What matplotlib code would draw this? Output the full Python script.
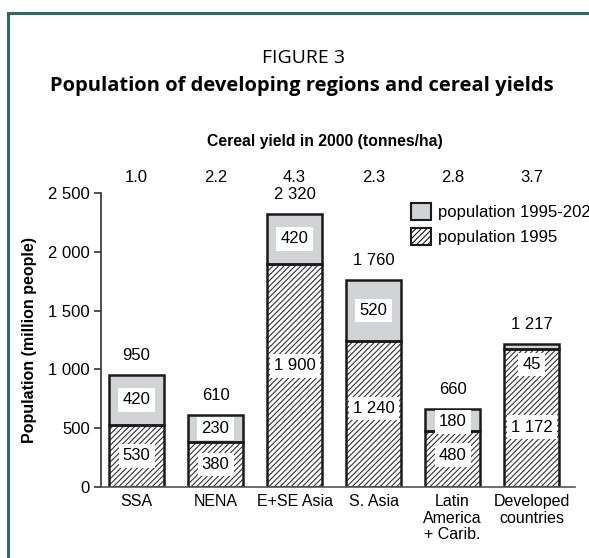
import matplotlib
matplotlib.use('Agg')
import matplotlib.pyplot as plt
from matplotlib.patches import Rectangle, Patch

regions = ['SSA', 'NENA', 'E+SE Asia', 'S. Asia', 'Latin\nAmerica\n+ Carib.', 'Developed\ncountries']
pop_1995 = [530, 380, 1900, 1240, 480, 1172]
pop_increase = [420, 230, 420, 520, 180, 45]
pop_total = ['950', '610', '2 320', '1 760', '660', '1 217']
base_labels = ['530', '380', '1 900', '1 240', '480', '1 172']
increase_labels = ['420', '230', '420', '520', '180', '45']
cereal_yield = ['1.0', '2.2', '4.3', '2.3', '2.8', '3.7']
yticks = [0, 500, 1000, 1500, 2000, 2500]
ytick_labels = ['0', '500', '1 000', '1 500', '2 000', '2 500']

# where the white number boxes sit (layout, not data)
base_label_y = [265, 190, 1030, 670, 272, 510]
increase_label_y = [740, 495, 2110, 1500, 553, 1040]

plt.rcParams['font.family'] = ['Liberation Sans', 'DejaVu Sans']
plt.rcParams['hatch.linewidth'] = 0.8
fs = 12

fig = plt.figure(figsize=(5.89, 5.58), dpi=100)

# teal frame round the figure
fig.patches.append(Rectangle((8 / 589, -0.1), 1.2, 1 - 13 / 558 + 0.1, transform=fig.transFigure,
                             fill=False, edgecolor='#2c6a64', linewidth=2.2))

fig.text(304 / 589, 1 - 58 / 558, 'FIGURE 3', ha='center', va='center', fontsize=14, family='Open Sans')
fig.text(302 / 589, 1 - 86 / 558, 'Population of developing regions and cereal yields', ha='center', va='center',
         fontsize=14.5, family='Open Sans', fontweight='bold')

ax = fig.add_axes([101 / 589, 1 - 487 / 558, 474 / 589, 294 / 558])
x = list(range(len(regions)))
width = 0.7

ax.bar(x, pop_1995, width, color='white', edgecolor='#333333', hatch='//////', linewidth=0)
ax.bar(x, pop_increase, width, bottom=pop_1995, color='#d1d3d4', linewidth=0)
ax.bar(x, pop_1995, width, fill=False, edgecolor='#1a1a1a', linewidth=1.8)
ax.bar(x, pop_increase, width, bottom=pop_1995, fill=False, edgecolor='#1a1a1a', linewidth=1.8)

box = dict(facecolor='white', edgecolor='none', pad=3)
for i in x:
    ax.text(i, base_label_y[i], base_labels[i], ha='center', va='center', fontsize=fs, bbox=box)
    ax.text(i, increase_label_y[i], increase_labels[i], ha='center', va='center', fontsize=fs, bbox=box)
    ax.annotate(pop_total[i], (i, pop_1995[i] + pop_increase[i]), xytext=(0, 14), textcoords='offset points',
                ha='center', va='center', fontsize=fs)
    ax.text(i, 2636, cereal_yield[i], ha='center', va='center', fontsize=fs, clip_on=False)

ax.text(2.39, 2942, 'Cereal yield in 2000 (tonnes/ha)', ha='center', va='center', fontsize=11.3,
        fontweight='bold', clip_on=False)

ax.set_xlim(-0.45, 5.55)
ax.set_ylim(0, 2500)
ax.set_yticks(yticks)
ax.set_yticklabels(ytick_labels)
ax.set_xticks(x)
ax.set_xticklabels(regions, linespacing=1.13)
ax.tick_params(axis='x', length=0, labelsize=11.5, pad=5)
ax.tick_params(axis='y', length=5, width=1.2, color='#333333', labelsize=fs, pad=3)
ax.spines['top'].set_visible(False)
ax.spines['right'].set_visible(False)
ax.spines['left'].set_color('#333333')
ax.spines['bottom'].set_color('#555555')
ax.spines['left'].set_linewidth(1.2)
ax.spines['bottom'].set_linewidth(1.2)

ax.set_ylabel('Population (million people)', fontsize=11.5, fontweight='bold')
ax.yaxis.set_label_coords(-0.135, 0.5)

handles = [Patch(facecolor='#d1d3d4', edgecolor='#1a1a1a', linewidth=1.5, label='population 1995-2020'),
           Patch(facecolor='white', edgecolor='#1a1a1a', hatch='//////', linewidth=1.5, label='population 1995')]
ax.legend(handles=handles, loc='upper left', bbox_to_anchor=(0.654, 0.966), frameon=False,
          borderpad=0, handlelength=1.2, handleheight=1.2, handletextpad=0.4, labelspacing=0.45,
          fontsize=fs, borderaxespad=0)

fig.savefig('out.png', dpi=100)
